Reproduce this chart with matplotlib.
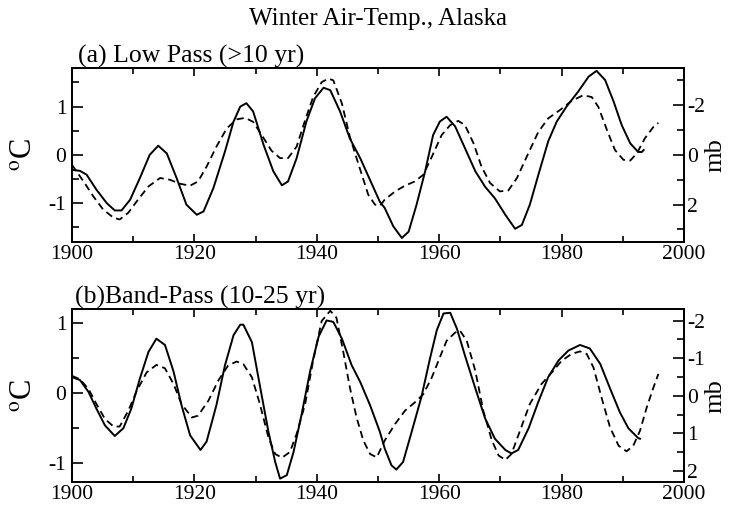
#!/usr/bin/env python3
"""Winter air temperature, Alaska: low-pass and band-pass (solid, degC)
against a pressure index (dashed, mb, inverted right axis)."""
import matplotlib
matplotlib.use("Agg")
import matplotlib.pyplot as plt
from matplotlib.ticker import MultipleLocator

# (a) low pass (>10 yr) -- temperature, degC
years_a_temp = [1900.0, 1901.3, 1902.4, 1904.0, 1905.7, 1907.0, 1908.1, 1909.5, 1911.1,
                1912.7, 1914.1, 1915.5, 1917.1, 1918.7, 1920.4, 1921.5, 1923.1, 1925.0,
                1926.4, 1927.5, 1928.5, 1929.6, 1931.3, 1932.9, 1934.3, 1935.3, 1936.7,
                1938.3, 1939.7, 1941.1, 1942.2, 1943.8, 1945.4, 1947.1, 1948.7, 1950.3,
                1951.1, 1952.5, 1953.9, 1955.0, 1956.3, 1957.7, 1959.0, 1960.1, 1961.2,
                1962.6, 1964.2, 1965.9, 1967.5, 1969.1, 1970.8, 1972.4, 1973.5, 1974.8,
                1976.2, 1977.8, 1979.2, 1980.8, 1982.7, 1984.4, 1985.7, 1987.1, 1988.5,
                1989.8, 1991.2, 1992.5, 1993.1, 1993.4]
temp_a = [-0.31, -0.33, -0.41, -0.72, -1.0, -1.15, -1.15, -0.93, -0.48,
          0.0, 0.19, 0.03, -0.48, -1.03, -1.24, -1.17, -0.69, 0.07,
          0.69, 1.0, 1.07, 0.9, 0.21, -0.34, -0.63, -0.55, -0.07,
          0.69, 1.17, 1.39, 1.34, 0.9, 0.34, -0.07, -0.52, -0.97,
          -1.1, -1.48, -1.72, -1.59, -1.03, -0.34, 0.41, 0.69, 0.79,
          0.59, 0.14, -0.34, -0.66, -0.9, -1.24, -1.53, -1.45, -1.03,
          -0.41, 0.28, 0.69, 1.0, 1.31, 1.62, 1.74, 1.55, 1.1,
          0.62, 0.24, 0.06, 0.06, 0.1]

# (a) low pass -- pressure index, mb
years_a_slp = [1900.0, 1901.9, 1903.5, 1905.1, 1906.8, 1907.8, 1909.2, 1910.8, 1912.5,
               1914.4, 1916.0, 1917.6, 1919.3, 1920.6, 1922.0, 1923.6, 1925.3, 1926.9,
               1928.3, 1929.6, 1931.0, 1932.6, 1934.0, 1935.3, 1936.7, 1938.1, 1939.4,
               1940.8, 1941.9, 1942.7, 1944.1, 1945.4, 1947.1, 1948.4, 1949.5, 1950.3,
               1951.1, 1952.8, 1954.4, 1956.0, 1957.4, 1958.8, 1960.4, 1961.8, 1963.1,
               1964.2, 1965.6, 1966.9, 1968.3, 1969.9, 1971.3, 1972.7, 1974.3, 1976.2,
               1977.8, 1979.7, 1981.6, 1983.5, 1984.9, 1986.0, 1987.4, 1988.7, 1990.1,
               1991.2, 1992.3, 1993.6, 1995.0, 1995.8]
slp_a = [0.4, 1.07, 1.67, 2.2, 2.53, 2.6, 2.33, 1.8, 1.27,
         0.93, 1.0, 1.16, 1.24, 1.07, 0.47, -0.33, -1.07, -1.43,
         -1.49, -1.33, -0.8, -0.17, 0.13, 0.13, -0.33, -1.4, -2.33,
         -2.93, -3.07, -3.0, -2.07, -0.73, 0.6, 1.6, 2.0, 2.05,
         1.8, 1.47, 1.24, 1.07, 0.8, 0.07, -0.8, -1.2, -1.37,
         -1.2, -0.47, 0.47, 1.13, 1.47, 1.43, 0.93, 0.07, -0.93,
         -1.47, -1.8, -2.17, -2.4, -2.33, -1.93, -1.0, -0.2, 0.2,
         0.23, -0.07, -0.67, -1.13, -1.29]

# (b) band pass (10-25 yr) -- temperature, degC
years_b_temp = [1900.0, 1901.3, 1902.7, 1904.0, 1905.4, 1907.0, 1908.4, 1909.7, 1911.1,
                1912.5, 1913.8, 1915.2, 1916.6, 1917.9, 1919.3, 1921.0, 1922.0, 1923.6,
                1925.0, 1926.4, 1927.5, 1928.0, 1929.4, 1930.7, 1932.1, 1933.2, 1934.0,
                1935.1, 1936.2, 1937.5, 1938.9, 1940.3, 1941.6, 1942.7, 1944.1, 1945.7,
                1947.1, 1948.7, 1950.3, 1951.1, 1952.2, 1953.0, 1954.1, 1955.5, 1957.1,
                1958.5, 1959.6, 1960.7, 1961.8, 1962.9, 1964.2, 1965.9, 1967.5, 1969.1,
                1970.8, 1971.8, 1972.9, 1974.6, 1976.2, 1977.8, 1979.5, 1981.1, 1983.0,
                1984.6, 1986.3, 1987.9, 1989.5, 1990.9, 1992.5, 1992.8]
temp_b = [0.22, 0.18, 0.01, -0.23, -0.47, -0.62, -0.51, -0.23, 0.2,
          0.58, 0.77, 0.68, 0.3, -0.18, -0.61, -0.82, -0.7, -0.18,
          0.39, 0.82, 0.97, 0.97, 0.72, 0.1, -0.56, -0.99, -1.23,
          -1.18, -0.85, -0.32, 0.3, 0.8, 1.03, 1.01, 0.77, 0.39,
          0.15, -0.18, -0.56, -0.8, -1.04, -1.1, -0.99, -0.56, -0.06,
          0.49, 0.89, 1.13, 1.14, 0.91, 0.53, 0.06, -0.37, -0.66,
          -0.82, -0.87, -0.82, -0.51, -0.13, 0.22, 0.46, 0.6, 0.68,
          0.63, 0.41, 0.06, -0.28, -0.51, -0.65, -0.66]

# (b) band pass -- pressure index, mb
years_b_slp = [1900.0, 1901.3, 1902.7, 1904.0, 1905.4, 1906.8, 1907.8, 1909.2, 1910.6,
               1912.2, 1913.8, 1915.2, 1916.6, 1917.9, 1919.6, 1920.6, 1922.3, 1923.9,
               1925.5, 1926.9, 1928.0, 1929.4, 1930.7, 1932.1, 1933.2, 1934.3, 1935.6,
               1936.7, 1938.1, 1939.4, 1940.8, 1942.2, 1943.2, 1944.3, 1945.4, 1946.5,
               1947.6, 1948.7, 1949.8, 1951.1, 1952.8, 1954.4, 1956.0, 1957.4, 1958.8,
               1960.1, 1961.2, 1962.6, 1963.4, 1964.5, 1965.9, 1967.2, 1968.6, 1969.7,
               1970.8, 1971.8, 1973.2, 1974.8, 1976.7, 1978.4, 1980.0, 1981.6, 1983.0,
               1984.1, 1985.2, 1986.5, 1987.9, 1989.3, 1990.6, 1991.7, 1992.8, 1993.9,
               1995.0, 1995.8]
slp_b = [-0.53, -0.44, -0.18, 0.22, 0.62, 0.82, 0.82, 0.4, -0.13,
         -0.62, -0.82, -0.73, -0.31, 0.22, 0.58, 0.53, 0.13, -0.4,
         -0.8, -0.91, -0.84, -0.49, 0.22, 1.11, 1.55, 1.65, 1.5,
         1.02, 0.22, -0.93, -1.99, -2.26, -2.08, -1.19, -0.22, 0.58,
         1.19, 1.55, 1.64, 1.19, 0.75, 0.4, 0.18, -0.04, -0.49,
         -1.02, -1.46, -1.68, -1.73, -1.46, -0.66, 0.4, 1.19, 1.59,
         1.71, 1.55, 0.93, 0.22, -0.31, -0.62, -0.93, -1.11, -1.18,
         -1.11, -0.75, 0.04, 0.84, 1.33, 1.48, 1.33, 0.93, 0.31,
         -0.22, -0.58]

plt.rcParams.update({
    "font.family": ["Liberation Serif", "DejaVu Serif"],
    "mathtext.fontset": "stix",
    "axes.unicode_minus": False,
    "font.size": 15,
    "axes.linewidth": 1.3,
})

fig = plt.figure(figsize=(7.34, 5.07), dpi=100)
ax_a = fig.add_axes([0.098, 0.523, 0.834, 0.343])
ax_b = fig.add_axes([0.098, 0.049, 0.834, 0.341])


def style_axes(ax, ax2, ylim, ylim2, minor2, major2):
    ax.set_xlim(1900, 2000)
    ax.set_ylim(*ylim)
    ax2.set_ylim(*ylim2)
    ax.xaxis.set_major_locator(MultipleLocator(20))
    ax.xaxis.set_minor_locator(MultipleLocator(10))
    ax.yaxis.set_major_locator(MultipleLocator(1))
    ax.yaxis.set_minor_locator(MultipleLocator(0.5))
    ax2.yaxis.set_major_locator(MultipleLocator(major2))
    ax2.yaxis.set_minor_locator(MultipleLocator(minor2))
    ax.tick_params(axis="x", which="both", direction="in", top=True, labelsize=15.5, pad=2)
    ax.tick_params(axis="x", which="major", length=6, width=1.2)
    ax.tick_params(axis="x", which="minor", length=4, width=1.2)
    ax.tick_params(axis="y", which="both", direction="in", labelsize=15.5, pad=4)
    ax.tick_params(axis="y", which="major", length=8, width=1.2)
    ax.tick_params(axis="y", which="minor", length=5, width=1.2)
    ax2.tick_params(axis="y", which="both", direction="in", labelsize=15.5, pad=2)
    ax2.tick_params(axis="y", which="major", length=8, width=1.2)
    ax2.tick_params(axis="y", which="minor", length=5, width=1.2)
    ax.set_ylabel(r"$^{\mathrm{o}}$C", fontsize=22, labelpad=7)
    ax2.set_ylabel("mb", fontsize=19, labelpad=0)


# panel (a)
ax_a2 = ax_a.twinx()
ax_a.plot(years_a_temp, temp_a, color="black", lw=1.4)
ax_a2.plot(years_a_slp, slp_a, color="black", lw=1.3, ls=(0, (4, 2.5)))
style_axes(ax_a, ax_a2, (-1.8, 1.8), (3.5, -3.5), 1, 2)
ax_a.text(0.01, 1.0, "(a) Low Pass (>10 yr)", transform=ax_a.transAxes,
          fontsize=18.5, ha="left", va="bottom")

# panel (b)
ax_b2 = ax_b.twinx()
ax_b.plot(years_b_temp, temp_b, color="black", lw=1.4)
ax_b2.plot(years_b_slp, slp_b, color="black", lw=1.3, ls=(0, (4, 2.5)))
style_axes(ax_b, ax_b2, (-1.28, 1.19), (2.3, -2.3), 0.5, 1)
ax_b.text(0.005, 1.0, "(b)Band-Pass (10-25 yr)", transform=ax_b.transAxes,
          fontsize=18.5, ha="left", va="bottom")

fig.text(0.515, 0.985, "Winter Air-Temp., Alaska", fontsize=18, ha="center", va="top")

fig.savefig("out.png", dpi=100)
